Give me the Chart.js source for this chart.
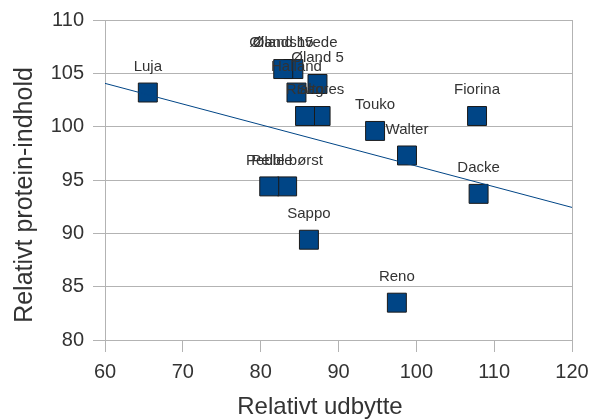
<!DOCTYPE html>
<html>
<head>
<meta charset="utf-8">
<script src="https://cdn.jsdelivr.net/npm/chart.js@4.4.1/dist/chart.umd.min.js"></script>
<style>
  html, body { margin: 0; padding: 0; background: #fff; }
  #wrap { width: 593px; height: 419px; }
</style>
</head>
<body>
<div id="wrap"><canvas id="chart" width="593" height="419"></canvas></div>
<script>
// sorter: relativt udbytte vs. relativt protein-indhold
const names   = ['Luja', 'Ølandshvede', 'Øland 15', 'Øland 5', 'Halland', 'Sagres', 'Rialto', 'Touko', 'Walter', 'Fiorina', 'Dacke', 'Reno', 'Pelle børst', 'Pebble', 'Sappo'];
const yieldX  = [65.5, 84.2, 82.9, 87.3, 84.6, 87.7, 85.7, 94.7, 98.8, 107.8, 108.0, 97.5, 83.4, 81.1, 86.2];
const protein = [103.2, 105.4, 105.4, 104.0, 103.2, 101.0, 101.0, 99.6, 97.3, 101.0, 93.7, 83.5, 94.4, 94.4, 89.4];

// trendlinje, aflæst ved aksernes ender
const trendX = [60, 120];
const trendY = [104.06, 92.43];

const xTitle = 'Relativt udbytte';
const yTitle = 'Relativt protein-indhold';

const TEXT = '#333';
const GRID = '#b3b3b3';
const BLUE = '#004586';
const FONT = 'Liberation Sans, Arial, sans-serif';

const points = yieldX.map((x, i) => ({ x, y: protein[i] }));
const trend = trendX.map((x, i) => ({ x, y: trendY[i] }));

const pointLabels = {
  id: 'pointLabels',
  afterDatasetsDraw(chart) {
    const { ctx, scales } = chart;
    ctx.save();
    ctx.font = '15px ' + FONT;
    ctx.fillStyle = TEXT;
    ctx.textAlign = 'center';
    ctx.textBaseline = 'middle';
    points.forEach((p, i) => {
      ctx.fillText(names[i], scales.x.getPixelForValue(p.x), scales.y.getPixelForValue(p.y) - 26);
    });
    ctx.restore();
  }
};

// akse-titler sidder lidt skævt i forhold til plotområdet i originalen
const axisTitles = {
  id: 'axisTitles',
  afterDraw(chart) {
    const { ctx } = chart;
    ctx.save();
    ctx.fillStyle = TEXT;
    ctx.textAlign = 'center';
    ctx.textBaseline = 'middle';
    ctx.font = '24px ' + FONT;
    ctx.fillText(xTitle, 320, 407);
    ctx.translate(25, 195);
    ctx.rotate(-Math.PI / 2);
    ctx.font = '25px ' + FONT;
    ctx.fillText(yTitle, 0, 0);
    ctx.restore();
  }
};

new Chart(document.getElementById('chart').getContext('2d'), {
  type: 'scatter',
  data: {
    datasets: [
      {
        data: trend,
        type: 'line',
        borderColor: BLUE,
        borderWidth: 1,
        pointRadius: 0,
        pointHoverRadius: 0,
        fill: false,
      },
      {
        data: points,
        pointStyle: 'rect',
        pointRadius: 13.4,
        pointHoverRadius: 13.4,
        backgroundColor: BLUE,
        borderColor: '#1a1a1a',
        borderWidth: 1,
      }
    ]
  },
  options: {
    responsive: false,
    animation: false,
    events: [],
    layout: { padding: { left: 0, top: 20, right: 21, bottom: 0 } },
    plugins: {
      legend: { display: false },
      tooltip: { enabled: false },
    },
    scales: {
      x: {
        type: 'linear',
        min: 60,
        max: 120,
        afterFit: axis => {
          axis.height = 79;
          axis.paddingLeft = 0;
          axis.paddingRight = 0;
        },
        ticks: { stepSize: 10, color: TEXT, padding: 8, font: { family: FONT, size: 20 } },
        grid: {
          color: c => (c.tick && c.tick.value === 120 ? GRID : 'rgba(0,0,0,0)'),
          tickColor: GRID,
          tickLength: 12,
        },
        border: { color: GRID },
      },
      y: {
        min: 80,
        max: 110,
        afterFit: axis => {
          axis.width = 105;
          axis.paddingTop = 0;
          axis.paddingBottom = 0;
        },
        ticks: { stepSize: 5, color: TEXT, padding: 9, font: { family: FONT, size: 20 } },
        grid: { color: GRID, tickColor: GRID, tickLength: 12 },
        border: { color: GRID },
      }
    }
  },
  plugins: [pointLabels, axisTitles]
});
</script>
</body>
</html>
